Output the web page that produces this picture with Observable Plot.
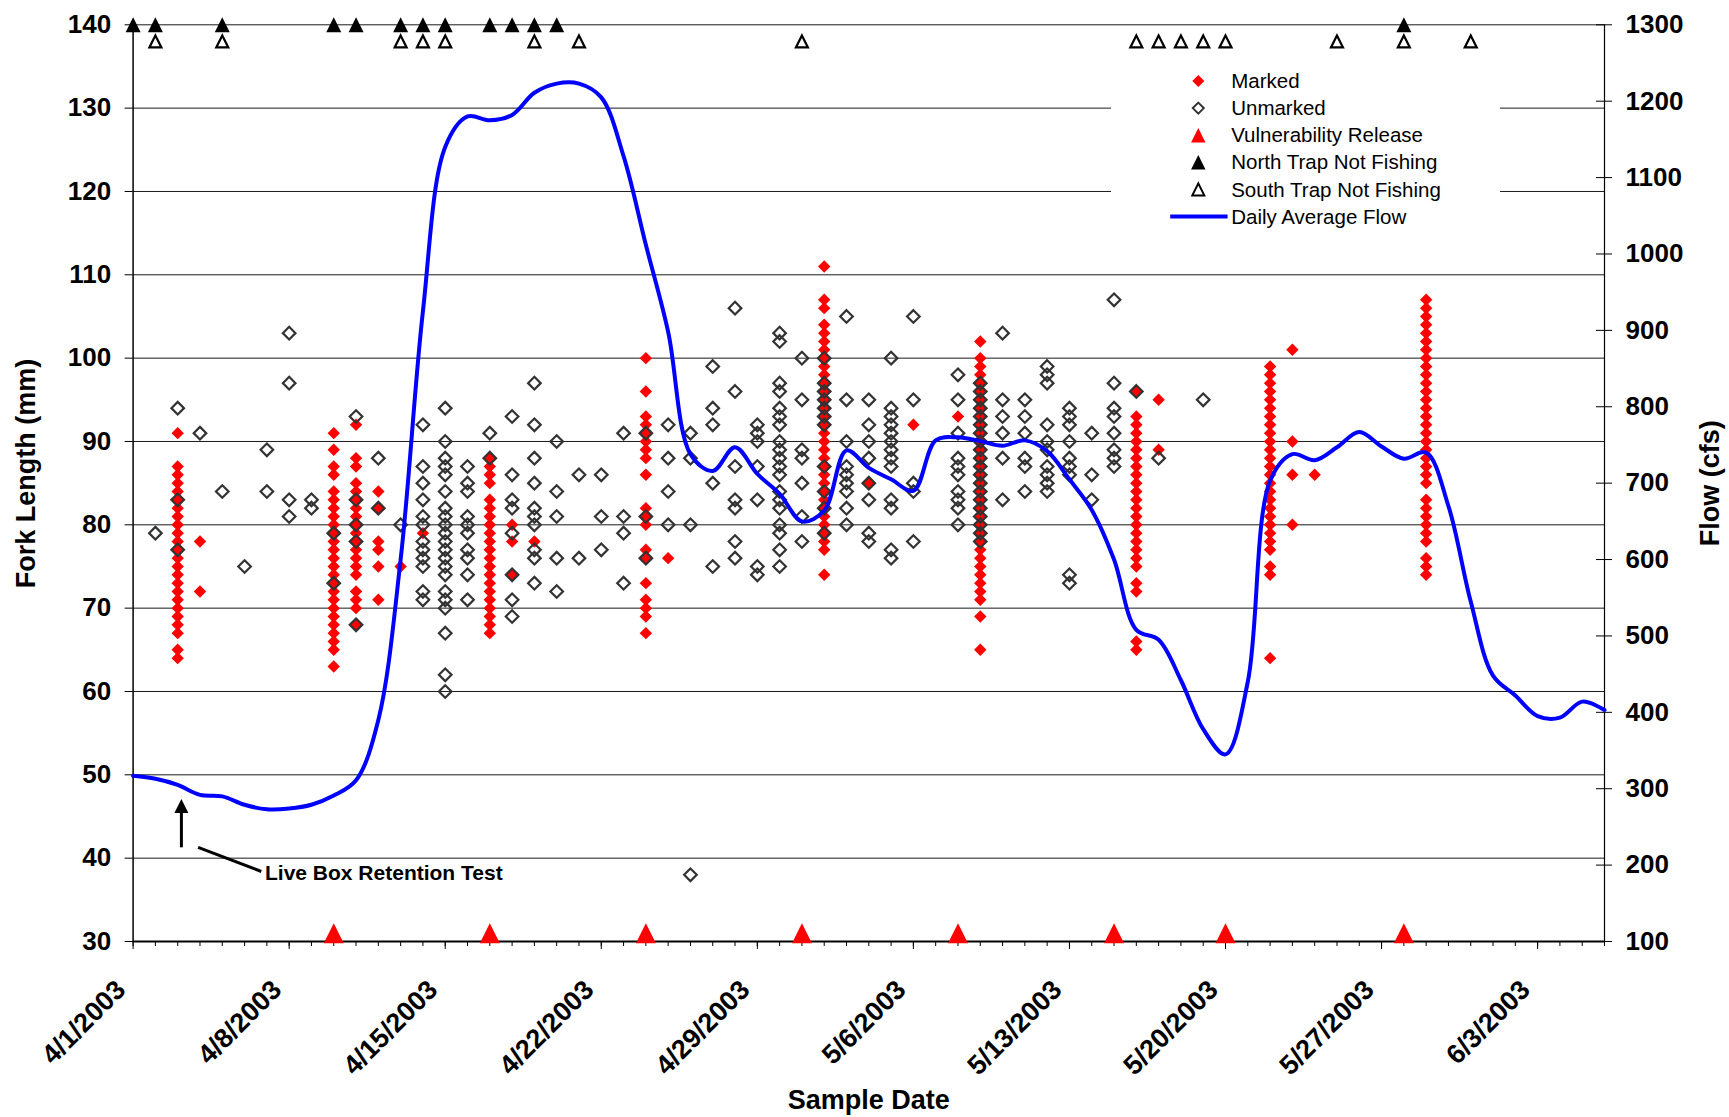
<!DOCTYPE html>
<html>
<head>
<meta charset="utf-8">
<script src="https://cdn.jsdelivr.net/npm/d3@7"></script>
<script src="https://cdn.jsdelivr.net/npm/@observablehq/plot@0.6"></script>
<style>
  html, body { margin: 0; padding: 0; background: #fff; }
  #wrap { position: relative; width: 1729px; height: 1117px; overflow: hidden; }
  #wrap svg { display: block; }
  #legend { position: absolute; left: 1111px; top: 58px; }
</style>
</head>
<body>
<div id="wrap"></div>
<script>
// ---------------- DATA ----------------
const startDate = "2003-04-01";
const endDate = "2003-06-06";

// Daily average flow (cfs), one value per day starting 4/1/2003
const flowCfs = [317,313,305,292,290,279,273,274,279,291,311,390,600,925,1140,1180,1175,1182,1211,1223,1223,1205,1128,1012,898,738,716,747,712,686,650,664,743,720,705,690,756,760,755,749,756,742,705,665,600,508,495,442,378,345,440,703,738,730,747,767,748,732,740,670,545,448,422,395,393,414,403];

// Fork lengths (mm) of marked fish by sample date
const markedByDate = [
  ["2003-04-03", [91,87,86,85,84,83,82,81,80,79,78,77,76,75,74,73,72,71,70,69,68,67,65,64]],
  ["2003-04-04", [78,72]],
  ["2003-04-10", [91,89,87,86,84,83,82,81,80,79,78,77,76,75,74,73,72,71,70,69,68,67,66,65,63]],
  ["2003-04-11", [92,88,87,85,84,83,82,81,80,79,78,77,76,75,74,72,71,70,68]],
  ["2003-04-12", [84,82,78,77,75,71]],
  ["2003-04-13", [75]],
  ["2003-04-14", [79]],
  ["2003-04-17", [88,87,86,85,83,82,81,80,79,78,77,76,75,74,73,72,71,70,69,68,67]],
  ["2003-04-18", [80,78,74]],
  ["2003-04-19", [78]],
  ["2003-04-24", [100,96,93,92,91,90,89,88,86,82,81,80,77,76,73,71,70,69,67]],
  ["2003-04-25", [76]],
  ["2003-05-02", [111,107,106,104,103,102,101,100,99,98,97,96,95,94,93,92,91,90,89,88,87,86,85,84,83,82,81,80,79,78,77,74]],
  ["2003-05-04", [85]],
  ["2003-05-06", [92]],
  ["2003-05-08", [93]],
  ["2003-05-09", [102,100,99,98,97,96,95,94,93,92,91,90,89,88,87,86,85,84,83,82,81,80,79,78,77,76,75,74,73,72,71,69,65]],
  ["2003-05-16", [96,93,92,91,90,89,88,87,86,85,84,83,82,81,80,79,78,77,76,75,73,72,66,65]],
  ["2003-05-17", [95,89]],
  ["2003-05-22", [99,98,97,96,95,94,93,92,91,90,89,88,87,86,85,84,83,82,81,80,79,78,77,75,74,64]],
  ["2003-05-23", [101,90,86,80]],
  ["2003-05-24", [86]],
  ["2003-05-29", [107,106,105,104,103,102,101,100,99,98,97,96,95,94,93,92,91,90,89,88,87,86,85,83,82,81,80,79,78,76,75,74]]
];

// Fork lengths (mm) of unmarked fish by sample date
const unmarkedByDate = [
  ["2003-04-02", [79]],
  ["2003-04-03", [94,83,77]],
  ["2003-04-04", [91]],
  ["2003-04-05", [84]],
  ["2003-04-06", [75]],
  ["2003-04-07", [89,84]],
  ["2003-04-08", [103,97,83,81]],
  ["2003-04-09", [83,82]],
  ["2003-04-10", [79,73]],
  ["2003-04-11", [93,83,80,78,68]],
  ["2003-04-12", [88,82]],
  ["2003-04-13", [80]],
  ["2003-04-14", [92,87,85,83,81,80,78,77,76,75,72,71]],
  ["2003-04-15", [94,90,88,87,86,84,82,81,80,79,78,77,76,75,74,72,71,70,67,62,60]],
  ["2003-04-16", [87,85,84,81,80,79,77,76,74,71]],
  ["2003-04-17", [91,88]],
  ["2003-04-18", [93,86,83,82,79,74,71,69]],
  ["2003-04-19", [97,92,88,85,82,81,80,77,76,73]],
  ["2003-04-20", [90,84,81,76,72]],
  ["2003-04-21", [86,76]],
  ["2003-04-22", [86,81,77]],
  ["2003-04-23", [91,81,79,73]],
  ["2003-04-24", [91,81,76]],
  ["2003-04-25", [92,88,84,80]],
  ["2003-04-26", [91,88,80,38]],
  ["2003-04-27", [99,94,92,85,75]],
  ["2003-04-28", [106,96,87,83,82,78,76]],
  ["2003-04-29", [92,91,90,87,83,75,74]],
  ["2003-04-30", [103,102,97,96,94,93,92,90,89,88,87,86,84,83,82,80,79,77,75]],
  ["2003-05-01", [100,95,89,88,85,81,78]],
  ["2003-05-02", [100,97,96,95,94,93,92,87,84,82,79]],
  ["2003-05-03", [105,95,90,87,86,85,84,82,80]],
  ["2003-05-04", [95,92,90,88,85,83,79,78]],
  ["2003-05-05", [100,94,93,92,91,90,89,88,87,83,82,77,76]],
  ["2003-05-06", [105,95,85,84,78]],
  ["2003-05-08", [98,95,91,88,87,86,84,83,82,80]],
  ["2003-05-09", [97,96,95,94,93,92,91,90,89,88,87,86,85,84,83,82,81,80,79,78]],
  ["2003-05-10", [103,95,93,91,88,83]],
  ["2003-05-11", [95,93,91,88,87,84]],
  ["2003-05-12", [99,98,97,92,90,89,87,86,85,84]],
  ["2003-05-13", [94,93,92,90,88,87,86,74,73]],
  ["2003-05-14", [91,86,83]],
  ["2003-05-15", [107,97,94,93,91,89,88,87]],
  ["2003-05-16", [96]],
  ["2003-05-17", [88]],
  ["2003-05-19", [95]]
];

// Event markers (plotted on the fork-length axis)
const releaseDates = ["2003-04-10","2003-04-17","2003-04-24","2003-05-01","2003-05-08","2003-05-15","2003-05-20","2003-05-28"];
const releaseLevel = 31;
const northDates = ["2003-04-01","2003-04-02","2003-04-05","2003-04-10","2003-04-11","2003-04-13","2003-04-14","2003-04-15","2003-04-17","2003-04-18","2003-04-19","2003-04-20","2003-05-28"];
const northLevel = 140;
const southDates = ["2003-04-02","2003-04-05","2003-04-13","2003-04-14","2003-04-15","2003-04-19","2003-04-21","2003-05-01","2003-05-16","2003-05-17","2003-05-18","2003-05-19","2003-05-20","2003-05-25","2003-05-28","2003-05-31"];
const southLevel = 138;

// Axis ticks
const lengthTicks = [30,40,50,60,70,80,90,100,110,120,130,140];
const flowTicks = [100,200,300,400,500,600,700,800,900,1000,1100,1200,1300];
const flowRange = [100, 1300];

// Annotation (date-time, fork-length) anchor points
const noteText = "Live Box Retention Test";
const noteArrow = {date: "2003-04-03T04:00:00Z", from: 41.3, to: 47.1};
const noteLeader = {date1: "2003-04-03T22:00:00Z", v1: 41.3, date2: "2003-04-06T18:00:00Z", v2: 38.4};
const noteLabel = {date: "2003-04-06T22:00:00Z", v: 38.2};

const legendLabels = ["Marked","Unmarked","Vulnerability Release","North Trap Not Fishing","South Trap Not Fishing","Daily Average Flow"];

// ---------------- BUILD ----------------
const parse = s => new Date(s.length > 10 ? s : s + "T00:00:00Z");
const x0 = parse(startDate), x1 = parse(endDate);
const lenDomain = [lengthTicks[0], lengthTicks[lengthTicks.length - 1]];
const toLen = f => lenDomain[0] + (f - flowRange[0]) * (lenDomain[1] - lenDomain[0]) / (flowRange[1] - flowRange[0]);
const toFlow = v => flowRange[0] + (v - lenDomain[0]) * (flowRange[1] - flowRange[0]) / (lenDomain[1] - lenDomain[0]);

const flowData = flowCfs.map((f, i) => ({date: d3.utcDay.offset(x0, i), v: toLen(f)}));
const marked = markedByDate.flatMap(([d, vals]) => vals.map(v => ({date: parse(d), v})));
const unmarked = unmarkedByDate.flatMap(([d, vals]) => vals.map(v => ({date: parse(d), v})));
const release = releaseDates.map(d => ({date: parse(d), v: releaseLevel}));
const north = northDates.map(d => ({date: parse(d), v: northLevel}));
const south = southDates.map(d => ({date: parse(d), v: southLevel}));

const allDays = d3.utcDay.range(x0, d3.utcDay.offset(x1, 1));
const weekDays = allDays.filter((d, i) => i % 7 === 0);
const fmtDate = d3.utcFormat("%-m/%-d/%Y");

// Excel-like marker shapes: "r" is the half-width (bounding box centred on the point)
const excelTriangle = {draw(ctx, size) { const r = Math.sqrt(size / Math.PI);
  ctx.moveTo(0, -r); ctx.lineTo(r, r); ctx.lineTo(-r, r); ctx.closePath(); }};
const excelDiamond = {draw(ctx, size) { const r = Math.sqrt(size / Math.PI);
  ctx.moveTo(0, -r); ctx.lineTo(r, 0); ctx.lineTo(0, r); ctx.lineTo(-r, 0); ctx.closePath(); }};

const FONT = "'Liberation Sans', Arial, Helvetica, sans-serif";

const chart = Plot.plot({
  width: 1729,
  height: 1117,
  marginLeft: 132.6,
  marginRight: 125,
  marginTop: 24.3,
  marginBottom: 176,
  x: {type: "utc", domain: [x0, x1]},
  y: {domain: lenDomain},
  style: {fontFamily: FONT, color: "#000", background: "#fff", overflow: "visible"},
  marks: [
    // gridlines
    Plot.ruleY(lengthTicks, {stroke: "#1a1a1a", strokeWidth: 1}),
    // axis lines
    Plot.ruleX([x0], {stroke: "#000", strokeWidth: 1.5}),
    Plot.ruleX([x1], {stroke: "#000", strokeWidth: 1.2}),
    Plot.ruleY([lenDomain[0]], {stroke: "#000", strokeWidth: 2}),
    // left axis
    Plot.axisY(lengthTicks, {anchor: "left", tickSize: 8, tickPadding: 14, fontSize: 26, fontWeight: "bold", label: null, stroke: "#000"}),
    // right axis (flow)
    Plot.axisY(flowTicks.map(toLen), {anchor: "right", tickSize: 16, dx: -9, tickPadding: 14,
      tickFormat: v => String(Math.round(toFlow(v))), fontSize: 26, fontWeight: "bold", label: null, stroke: "#000"}),
    // x ticks
    Plot.axisX(allDays, {tickSize: 5, tickFormat: () => "", label: null, stroke: "#000"}),
    Plot.axisX(weekDays, {tickSize: 8, tickFormat: () => "", label: null, stroke: "#000"}),
    Plot.text(weekDays, {x: d => d, frameAnchor: "bottom", text: d => fmtDate(d), rotate: -45,
      textAnchor: "end", lineAnchor: "bottom", dx: -6, dy: 50, fontSize: 27, fontWeight: "bold", fill: "#000"}),
    // axis titles
    Plot.text(["Fork Length (mm)"], {text: d => d, frameAnchor: "left", textAnchor: "middle", lineAnchor: "middle",
      dx: -106.6, dy: -9.6, rotate: -90, fontSize: 27, fontWeight: "bold", fill: "#000"}),
    Plot.text(["Flow (cfs)"], {text: d => d, frameAnchor: "right", textAnchor: "middle", lineAnchor: "middle",
      dx: 105.7, dy: 0, rotate: -90, fontSize: 27, fontWeight: "bold", fill: "#000"}),
    Plot.text(["Sample Date"], {text: d => d, frameAnchor: "bottom", textAnchor: "middle", lineAnchor: "middle",
      dy: 159, fontSize: 27, fontWeight: "bold", fill: "#000"}),
    // fish lengths
    Plot.dot(marked, {x: "date", y: "v", symbol: excelDiamond, r: 6.2, fill: "#FF0000", stroke: "none"}),
    Plot.dot(unmarked, {x: "date", y: "v", symbol: excelDiamond, r: 6.3, fill: "none", stroke: "#333", strokeWidth: 2.2}),
    // flow
    Plot.line(flowData, {x: "date", y: "v", stroke: "#0000FF", strokeWidth: 4, curve: "catmull-rom"}),
    // event markers
    Plot.dot(release, {x: "date", y: "v", symbol: excelTriangle, r: 10, fill: "#FF0000", stroke: "none"}),
    Plot.dot(north, {x: "date", y: "v", symbol: excelTriangle, r: 7.5, fill: "#000", stroke: "none"}),
    Plot.dot(south, {x: "date", y: "v", symbol: excelTriangle, r: 6, fill: "#fff", stroke: "#000", strokeWidth: 2.2}),
    // annotation
    Plot.link([noteArrow], {x1: d => parse(d.date), y1: d => d.from, x2: d => parse(d.date), y2: d => d.to - 1.6, stroke: "#000", strokeWidth: 3}),
    Plot.dot([noteArrow], {x: d => parse(d.date), y: d => d.to, symbol: excelTriangle, r: 7, fill: "#000", stroke: "none", dy: 7}),
    Plot.link([noteLeader], {x1: d => parse(d.date1), y1: "v1", x2: d => parse(d.date2), y2: "v2", stroke: "#000", strokeWidth: 3}),
    Plot.text([noteLabel], {x: d => parse(d.date), y: "v", text: () => noteText, textAnchor: "start",
      fontSize: 21, fontWeight: "bold", fill: "#000"})
  ]
});

const wrap = document.getElementById("wrap");
wrap.appendChild(chart);

// ---------------- LEGEND ----------------
const lw = 389, lh = 178;
const legend = d3.select(wrap).append("svg")
  .attr("id", "legend").attr("width", lw).attr("height", lh)
  .style("font-family", FONT);
legend.append("rect").attr("width", lw).attr("height", lh).attr("fill", "#fff");
const rowY = i => 23 + i * 27.1;
const symX = 87.3, textX = 120.2;
const sym = (type, r) => d3.symbol(type, Math.PI * r * r)();
const g = legend.selectAll("g.item").data(legendLabels).join("g").attr("class", "item");
g.append("text").attr("x", textX).attr("y", (d, i) => rowY(i)).attr("dy", "0.35em")
  .attr("font-size", 20.5).attr("fill", "#000").text(d => d);
const sy = [
  {t: excelDiamond, r: 6, fill: "#FF0000", stroke: "none", sw: 0},
  {t: excelDiamond, r: 5.5, fill: "none", stroke: "#333", sw: 2},
  {t: excelTriangle, r: 7.2, fill: "#FF0000", stroke: "none", sw: 0},
  {t: excelTriangle, r: 7.2, fill: "#000", stroke: "none", sw: 0},
  {t: excelTriangle, r: 6, fill: "#fff", stroke: "#000", sw: 2}
];
sy.forEach((s, i) => {
  legend.append("path").attr("d", sym(s.t, s.r))
    .attr("transform", `translate(${symX},${rowY(i)})`)
    .attr("fill", s.fill).attr("stroke", s.stroke).attr("stroke-width", s.sw);
});
legend.append("line").attr("x1", 59.2).attr("x2", 116.6).attr("y1", rowY(5)).attr("y2", rowY(5))
  .attr("stroke", "#0000FF").attr("stroke-width", 4);
</script>
</body>
</html>
